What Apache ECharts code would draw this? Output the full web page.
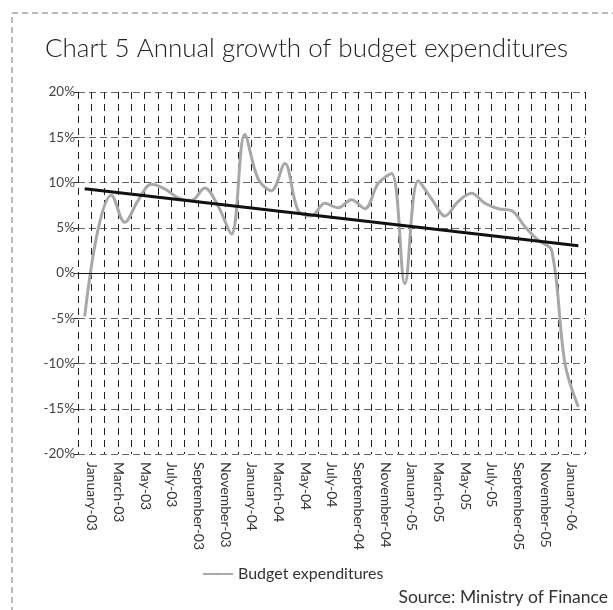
<!DOCTYPE html>
<html>
<head>
<meta charset="utf-8">
<script src="https://cdn.jsdelivr.net/npm/echarts@6/dist/echarts.min.js"></script>
<style>
  html, body { margin: 0; padding: 0; background: #fff; }
  #chart { width: 613px; height: 610px; }
</style>
</head>
<body>
<div id="chart"></div>
<script>
// Monthly categories, January 2003 to February 2006
const months = [
  'January-03','February-03','March-03','April-03','May-03','June-03','July-03','August-03',
  'September-03','October-03','November-03','December-03',
  'January-04','February-04','March-04','April-04','May-04','June-04','July-04','August-04',
  'September-04','October-04','November-04','December-04',
  'January-05','February-05','March-05','April-05','May-05','June-05','July-05','August-05',
  'September-05','October-05','November-05','December-05',
  'January-06','February-06'
];

// Annual growth of budget expenditures, %
const budgetGrowth = [
  -4.8, 4.8, 8.6, 5.6, 8.0, 9.8, 9.3, 8.3, 8.0, 9.4, 7.4, 4.3,
  15.3, 10.4, 9.1, 12.1, 6.9, 6.3, 7.7, 7.2, 8.1, 7.1, 9.9, 11.0,
  -1.2, 10.2, 8.2, 6.3, 7.9, 8.8, 7.7, 7.1, 6.9, 5.1, 3.6, 2.5,
  -10.0, -14.8
];

// Linear trend, value at first and last month
const trendEnds = [9.3, 3.0];

const yTicks = [-20, -15, -10, -5, 0, 5, 10, 15, 20];

const FONT = 'Lato';
const TEXT = '#333';

const chart = echarts.init(document.getElementById('chart'), null, { renderer: 'canvas' });

chart.setOption({
  animation: false,
  backgroundColor: '#fff',
  title: {
    text: 'Chart 5 Annual growth of budget expenditures',
    left: 'center',
    top: 31,
    textStyle: { fontFamily: FONT, fontWeight: 300, fontSize: 26, color: '#222' }
  },
  legend: {
    data: ['Budget expenditures'],
    left: 197,
    top: 561,
    itemWidth: 30,
    itemHeight: 3,
    itemGap: 4,
    textStyle: { fontFamily: FONT, fontSize: 16, color: TEXT }
  },
  graphic: [
    {
      type: 'rect',
      shape: { x: 12, y: 13, width: 640, height: 640 },
      style: { fill: 'none', stroke: '#777', lineWidth: 1, lineDash: [6, 4] },
      silent: true
    },
    {
      type: 'text',
      right: 5,
      top: 588,
      style: { text: 'Source: Ministry of Finance', font: '17.5px ' + FONT, fill: TEXT }
    }
  ],
  grid: { left: 78, right: 28, top: 92, bottom: 156 },
  xAxis: {
    type: 'category',
    data: months,
    boundaryGap: true,
    axisLine: { show: false, onZero: false },
    axisTick: { show: false },
    splitLine: {
      show: true,
      interval: 0,
      lineStyle: { color: '#222', width: 1, type: [7, 5] }
    },
    axisLabel: {
      interval: 1,
      rotate: -90,
      margin: 8,
      verticalAlign: 'bottom',
      fontFamily: FONT,
      fontSize: 14,
      color: TEXT
    }
  },
  yAxis: {
    type: 'value',
    min: yTicks[0],
    max: yTicks[yTicks.length - 1],
    interval: 5,
    axisLine: { show: false },
    axisTick: { show: true, length: 4, lineStyle: { color: '#333' } },
    splitLine: { show: true, lineStyle: { color: '#666', width: 1, type: [7, 4] } },
    axisLabel: {
      margin: 3,
      formatter: v => v + '%',
      fontFamily: FONT,
      fontSize: 13.5,
      color: '#444'
    }
  },
  series: [
    {
      name: 'Budget expenditures',
      type: 'line',
      data: budgetGrowth,
      smooth: 0.35,
      symbol: 'none',
      lineStyle: { color: '#a8a8a8', width: 3 },
      itemStyle: { color: '#a8a8a8' },
      z: 3,
      markLine: {
        silent: true,
        symbol: 'none',
        label: { show: false },
        lineStyle: { color: '#111', width: 1.2, type: 'solid' },
        data: [{ yAxis: 0 }]
      }
    },
    {
      name: 'Trend',
      type: 'line',
      data: [[0, trendEnds[0]], [months.length - 1, trendEnds[1]]],
      symbol: 'none',
      lineStyle: { color: '#111', width: 3 },
      z: 4
    }
  ]
});
</script>
</body>
</html>
